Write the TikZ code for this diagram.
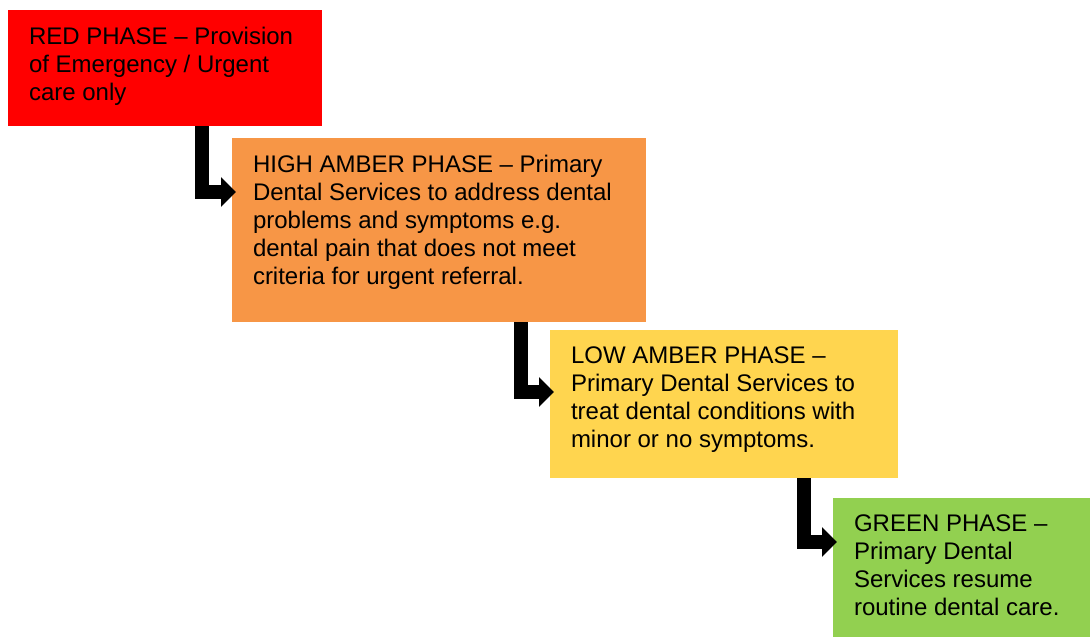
\documentclass[tikz,border=0pt]{standalone}
\usepackage{fontspec}
\setmainfont{Liberation Sans}
\usetikzlibrary{arrows.meta}
\definecolor{redphase}{HTML}{FF0000}
\definecolor{highamber}{HTML}{F79646}
\definecolor{lowamber}{HTML}{FFD54F}
\definecolor{greenphase}{HTML}{92D050}
\newcommand{\phasetext}[3]{\parbox[t][#1][t]{#2}{\raggedright\fontsize{24}{28}\selectfont #3}}

\begin{document}
\begin{tikzpicture}[x=1pt, y=-1pt,
    phase/.style={anchor=north west, inner xsep=21pt, inner ysep=17pt, outer sep=0pt},
    stepline/.style={line width=14.5pt, -{Triangle[width=29pt,length=15pt]}, shorten >=-4pt}]
    \useasboundingbox (0,0) rectangle (1090,637);

    \node[phase, fill=redphase] (red) at (8,10)
        {\phasetext{82pt}{272pt}{RED PHASE – Provision\\ of Emergency / Urgent\\ care only}};
    \node[phase, fill=highamber] (orange) at (232,138)
        {\phasetext{150pt}{372pt}{HIGH AMBER PHASE – Primary\\ Dental Services to address dental\\ problems and symptoms e.g.\\ dental pain that does not meet\\ criteria for urgent referral.}};
    \node[phase, fill=lowamber] (yellow) at (550,330)
        {\phasetext{114pt}{306pt}{LOW AMBER PHASE –\\ Primary Dental Services to\\ treat dental conditions with\\ minor or no symptoms.}};
    \node[phase, fill=greenphase] (green) at (833,498)
        {\phasetext{105pt}{215pt}{GREEN PHASE –\\ Primary Dental\\ Services resume\\ routine dental care.}};

    \draw[stepline] ([xshift=194pt]red.south west) |- ([yshift=-54pt]orange.north west);
    \draw[stepline] ([xshift=289pt]orange.south west) |- ([yshift=-62pt]yellow.north west);
    \draw[stepline] ([xshift=254pt]yellow.south west) |- ([yshift=-44pt]green.north west);
\end{tikzpicture}
\end{document}
